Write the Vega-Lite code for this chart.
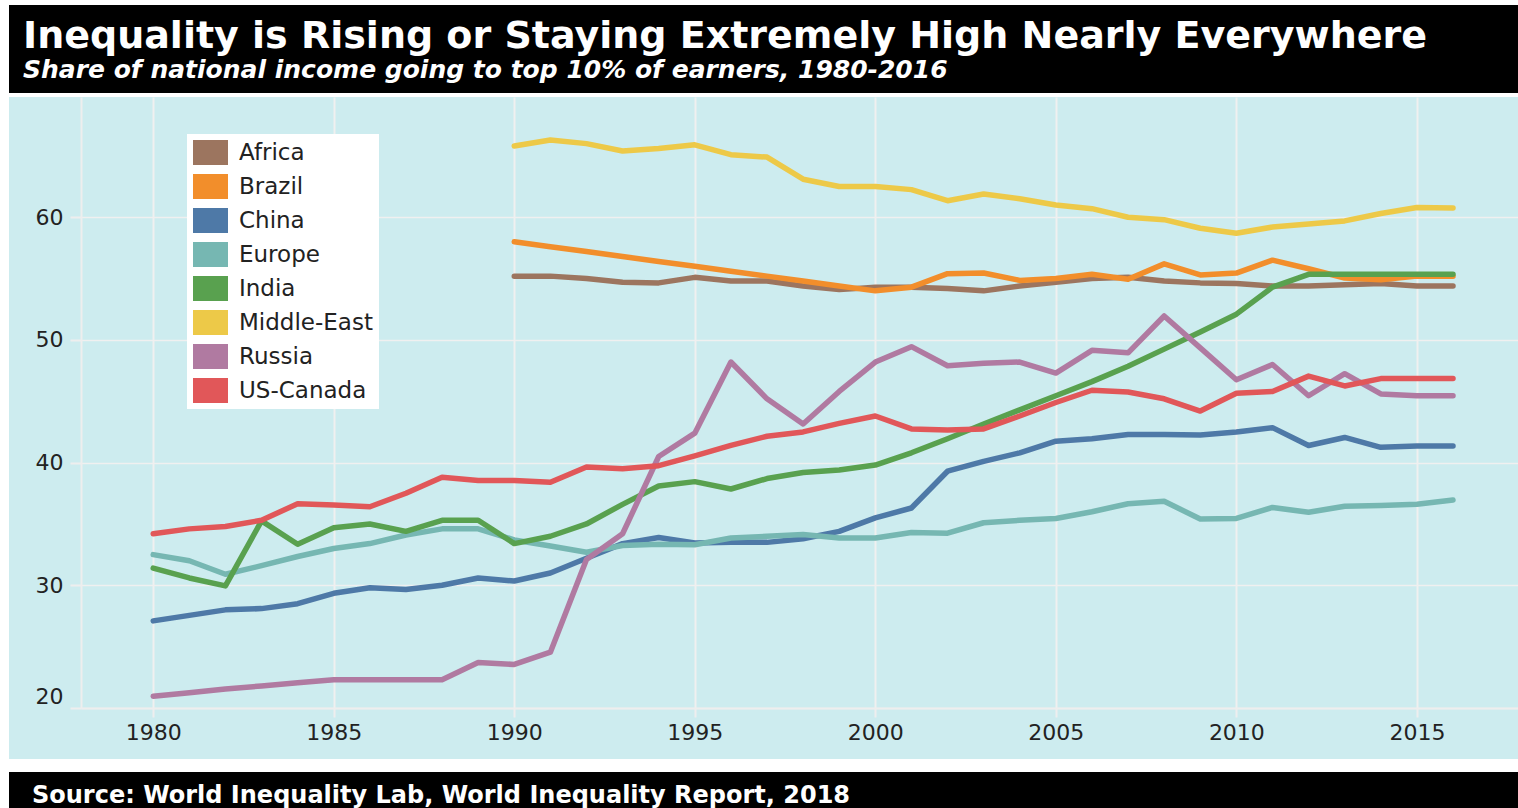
{
  "$schema": "https://vega.github.io/schema/vega-lite/v6.json",
  "background": "#cdecef",
  "padding": 0,
  "spacing": 0,
  "resolve": {"legend": {"color": "independent"}},
  "config": {"view": {"stroke": null}, "font": "DejaVu Sans"},
  "hconcat": [
    {
      "width": 9,
      "height": 808,
      "view": {"fill": "#ffffff", "stroke": null},
      "data": {"values": []},
      "mark": "point"
    },
    {
      "spacing": 0,
      "resolve": {"legend": {"color": "independent"}},
      "vconcat": [
        {
          "width": 1509,
          "height": 5,
          "view": {"fill": "#ffffff", "stroke": null},
          "data": {"values": []},
          "mark": "point"
        },
        {
          "width": 1509,
          "height": 88,
          "view": {"fill": "#000000", "stroke": null},
          "data": {"values": []},
          "mark": "point",
          "title": {
            "text": "Inequality is Rising or Staying Extremely High Nearly Everywhere",
            "subtitle": "Share of national income going to top 10% of earners, 1980-2016",
            "anchor": "start",
            "frame": "group",
            "orient": "top",
            "offset": -78,
            "dx": 14,
            "font": "DejaVu Sans",
            "fontSize": 38,
            "fontWeight": "bold",
            "color": "#ffffff",
            "subtitleFont": "DejaVu Sans",
            "subtitleFontSize": 25,
            "subtitleFontWeight": "bold",
            "subtitleFontStyle": "italic",
            "subtitleColor": "#ffffff",
            "subtitlePadding": 2
          }
        },
        {
          "width": 1509,
          "height": 4,
          "view": {"fill": "#ffffff", "stroke": null},
          "data": {"values": []},
          "mark": "point"
        },
        {
          "spacing": 0,
          "resolve": {"legend": {"color": "independent"}},
          "hconcat": [
            {
              "width": 1,
              "height": 611,
              "data": {"values": []},
              "mark": "point"
            },
            {
              "width": 1437,
              "height": 611,
              "data": {
                "values": [
                  {"region": "Africa", "year": 1990, "share": 55.2}, {"region": "Africa", "year": 1991, "share": 55.2}, {"region": "Africa", "year": 1992, "share": 55.0}, {"region": "Africa", "year": 1993, "share": 54.7}, {"region": "Africa", "year": 1994, "share": 54.65}, {"region": "Africa", "year": 1995, "share": 55.1}, {"region": "Africa", "year": 1996, "share": 54.8}, {"region": "Africa", "year": 1997, "share": 54.8}, {"region": "Africa", "year": 1998, "share": 54.4}, {"region": "Africa", "year": 1999, "share": 54.1}, {"region": "Africa", "year": 2000, "share": 54.3}, {"region": "Africa", "year": 2001, "share": 54.3}, {"region": "Africa", "year": 2002, "share": 54.2}, {"region": "Africa", "year": 2003, "share": 54.0}, {"region": "Africa", "year": 2004, "share": 54.4}, {"region": "Africa", "year": 2005, "share": 54.7}, {"region": "Africa", "year": 2006, "share": 55.0}, {"region": "Africa", "year": 2007, "share": 55.1}, {"region": "Africa", "year": 2008, "share": 54.8}, {"region": "Africa", "year": 2009, "share": 54.65}, {"region": "Africa", "year": 2010, "share": 54.6}, {"region": "Africa", "year": 2011, "share": 54.4}, {"region": "Africa", "year": 2012, "share": 54.4}, {"region": "Africa", "year": 2013, "share": 54.5}, {"region": "Africa", "year": 2014, "share": 54.6}, {"region": "Africa", "year": 2015, "share": 54.4}, {"region": "Africa", "year": 2016, "share": 54.4},
                  {"region": "Brazil", "year": 1990, "share": 58.0}, {"region": "Brazil", "year": 1991, "share": 57.6}, {"region": "Brazil", "year": 1992, "share": 57.2}, {"region": "Brazil", "year": 1993, "share": 56.8}, {"region": "Brazil", "year": 1994, "share": 56.4}, {"region": "Brazil", "year": 1995, "share": 56.0}, {"region": "Brazil", "year": 1996, "share": 55.6}, {"region": "Brazil", "year": 1997, "share": 55.2}, {"region": "Brazil", "year": 1998, "share": 54.8}, {"region": "Brazil", "year": 1999, "share": 54.4}, {"region": "Brazil", "year": 2000, "share": 54.0}, {"region": "Brazil", "year": 2001, "share": 54.3}, {"region": "Brazil", "year": 2002, "share": 55.4}, {"region": "Brazil", "year": 2003, "share": 55.45}, {"region": "Brazil", "year": 2004, "share": 54.85}, {"region": "Brazil", "year": 2005, "share": 55.0}, {"region": "Brazil", "year": 2006, "share": 55.35}, {"region": "Brazil", "year": 2007, "share": 54.95}, {"region": "Brazil", "year": 2008, "share": 56.2}, {"region": "Brazil", "year": 2009, "share": 55.3}, {"region": "Brazil", "year": 2010, "share": 55.45}, {"region": "Brazil", "year": 2011, "share": 56.5}, {"region": "Brazil", "year": 2012, "share": 55.8}, {"region": "Brazil", "year": 2013, "share": 55.05}, {"region": "Brazil", "year": 2014, "share": 54.9}, {"region": "Brazil", "year": 2015, "share": 55.2}, {"region": "Brazil", "year": 2016, "share": 55.2},
                  {"region": "China", "year": 1980, "share": 27.1}, {"region": "China", "year": 1981, "share": 27.55}, {"region": "China", "year": 1982, "share": 28.0}, {"region": "China", "year": 1983, "share": 28.1}, {"region": "China", "year": 1984, "share": 28.5}, {"region": "China", "year": 1985, "share": 29.35}, {"region": "China", "year": 1986, "share": 29.8}, {"region": "China", "year": 1987, "share": 29.65}, {"region": "China", "year": 1988, "share": 30.0}, {"region": "China", "year": 1989, "share": 30.6}, {"region": "China", "year": 1990, "share": 30.35}, {"region": "China", "year": 1991, "share": 31.0}, {"region": "China", "year": 1992, "share": 32.2}, {"region": "China", "year": 1993, "share": 33.4}, {"region": "China", "year": 1994, "share": 33.9}, {"region": "China", "year": 1995, "share": 33.45}, {"region": "China", "year": 1996, "share": 33.5}, {"region": "China", "year": 1997, "share": 33.5}, {"region": "China", "year": 1998, "share": 33.8}, {"region": "China", "year": 1999, "share": 34.4}, {"region": "China", "year": 2000, "share": 35.5}, {"region": "China", "year": 2001, "share": 36.3}, {"region": "China", "year": 2002, "share": 39.3}, {"region": "China", "year": 2003, "share": 40.1}, {"region": "China", "year": 2004, "share": 40.8}, {"region": "China", "year": 2005, "share": 41.75}, {"region": "China", "year": 2006, "share": 41.95}, {"region": "China", "year": 2007, "share": 42.3}, {"region": "China", "year": 2008, "share": 42.3}, {"region": "China", "year": 2009, "share": 42.25}, {"region": "China", "year": 2010, "share": 42.5}, {"region": "China", "year": 2011, "share": 42.85}, {"region": "China", "year": 2012, "share": 41.4}, {"region": "China", "year": 2013, "share": 42.05}, {"region": "China", "year": 2014, "share": 41.25}, {"region": "China", "year": 2015, "share": 41.35}, {"region": "China", "year": 2016, "share": 41.35},
                  {"region": "Europe", "year": 1980, "share": 32.5}, {"region": "Europe", "year": 1981, "share": 32.0}, {"region": "Europe", "year": 1982, "share": 30.9}, {"region": "Europe", "year": 1983, "share": 31.6}, {"region": "Europe", "year": 1984, "share": 32.35}, {"region": "Europe", "year": 1985, "share": 33.0}, {"region": "Europe", "year": 1986, "share": 33.4}, {"region": "Europe", "year": 1987, "share": 34.1}, {"region": "Europe", "year": 1988, "share": 34.6}, {"region": "Europe", "year": 1989, "share": 34.6}, {"region": "Europe", "year": 1990, "share": 33.7}, {"region": "Europe", "year": 1991, "share": 33.2}, {"region": "Europe", "year": 1992, "share": 32.7}, {"region": "Europe", "year": 1993, "share": 33.25}, {"region": "Europe", "year": 1994, "share": 33.35}, {"region": "Europe", "year": 1995, "share": 33.3}, {"region": "Europe", "year": 1996, "share": 33.85}, {"region": "Europe", "year": 1997, "share": 34.0}, {"region": "Europe", "year": 1998, "share": 34.15}, {"region": "Europe", "year": 1999, "share": 33.85}, {"region": "Europe", "year": 2000, "share": 33.85}, {"region": "Europe", "year": 2001, "share": 34.3}, {"region": "Europe", "year": 2002, "share": 34.25}, {"region": "Europe", "year": 2003, "share": 35.1}, {"region": "Europe", "year": 2004, "share": 35.3}, {"region": "Europe", "year": 2005, "share": 35.45}, {"region": "Europe", "year": 2006, "share": 36.0}, {"region": "Europe", "year": 2007, "share": 36.65}, {"region": "Europe", "year": 2008, "share": 36.85}, {"region": "Europe", "year": 2009, "share": 35.4}, {"region": "Europe", "year": 2010, "share": 35.45}, {"region": "Europe", "year": 2011, "share": 36.35}, {"region": "Europe", "year": 2012, "share": 35.95}, {"region": "Europe", "year": 2013, "share": 36.45}, {"region": "Europe", "year": 2014, "share": 36.5}, {"region": "Europe", "year": 2015, "share": 36.6}, {"region": "Europe", "year": 2016, "share": 36.95},
                  {"region": "India", "year": 1980, "share": 31.4}, {"region": "India", "year": 1981, "share": 30.6}, {"region": "India", "year": 1982, "share": 29.95}, {"region": "India", "year": 1983, "share": 35.25}, {"region": "India", "year": 1984, "share": 33.35}, {"region": "India", "year": 1985, "share": 34.7}, {"region": "India", "year": 1986, "share": 35.0}, {"region": "India", "year": 1987, "share": 34.4}, {"region": "India", "year": 1988, "share": 35.3}, {"region": "India", "year": 1989, "share": 35.3}, {"region": "India", "year": 1990, "share": 33.4}, {"region": "India", "year": 1991, "share": 34.0}, {"region": "India", "year": 1992, "share": 35.0}, {"region": "India", "year": 1993, "share": 36.6}, {"region": "India", "year": 1994, "share": 38.1}, {"region": "India", "year": 1995, "share": 38.45}, {"region": "India", "year": 1996, "share": 37.85}, {"region": "India", "year": 1997, "share": 38.7}, {"region": "India", "year": 1998, "share": 39.2}, {"region": "India", "year": 1999, "share": 39.4}, {"region": "India", "year": 2000, "share": 39.8}, {"region": "India", "year": 2001, "share": 40.8}, {"region": "India", "year": 2002, "share": 41.95}, {"region": "India", "year": 2003, "share": 43.15}, {"region": "India", "year": 2004, "share": 44.3}, {"region": "India", "year": 2005, "share": 45.45}, {"region": "India", "year": 2006, "share": 46.6}, {"region": "India", "year": 2007, "share": 47.85}, {"region": "India", "year": 2008, "share": 49.25}, {"region": "India", "year": 2009, "share": 50.65}, {"region": "India", "year": 2010, "share": 52.1}, {"region": "India", "year": 2011, "share": 54.3}, {"region": "India", "year": 2012, "share": 55.35}, {"region": "India", "year": 2013, "share": 55.35}, {"region": "India", "year": 2014, "share": 55.35}, {"region": "India", "year": 2015, "share": 55.35}, {"region": "India", "year": 2016, "share": 55.35},
                  {"region": "Middle-East", "year": 1990, "share": 65.8}, {"region": "Middle-East", "year": 1991, "share": 66.3}, {"region": "Middle-East", "year": 1992, "share": 66.0}, {"region": "Middle-East", "year": 1993, "share": 65.4}, {"region": "Middle-East", "year": 1994, "share": 65.6}, {"region": "Middle-East", "year": 1995, "share": 65.9}, {"region": "Middle-East", "year": 1996, "share": 65.1}, {"region": "Middle-East", "year": 1997, "share": 64.9}, {"region": "Middle-East", "year": 1998, "share": 63.1}, {"region": "Middle-East", "year": 1999, "share": 62.5}, {"region": "Middle-East", "year": 2000, "share": 62.5}, {"region": "Middle-East", "year": 2001, "share": 62.25}, {"region": "Middle-East", "year": 2002, "share": 61.35}, {"region": "Middle-East", "year": 2003, "share": 61.9}, {"region": "Middle-East", "year": 2004, "share": 61.5}, {"region": "Middle-East", "year": 2005, "share": 61.0}, {"region": "Middle-East", "year": 2006, "share": 60.7}, {"region": "Middle-East", "year": 2007, "share": 60.0}, {"region": "Middle-East", "year": 2008, "share": 59.8}, {"region": "Middle-East", "year": 2009, "share": 59.1}, {"region": "Middle-East", "year": 2010, "share": 58.7}, {"region": "Middle-East", "year": 2011, "share": 59.2}, {"region": "Middle-East", "year": 2012, "share": 59.45}, {"region": "Middle-East", "year": 2013, "share": 59.7}, {"region": "Middle-East", "year": 2014, "share": 60.3}, {"region": "Middle-East", "year": 2015, "share": 60.8}, {"region": "Middle-East", "year": 2016, "share": 60.75},
                  {"region": "Russia", "year": 1980, "share": 20.95}, {"region": "Russia", "year": 1981, "share": 21.25}, {"region": "Russia", "year": 1982, "share": 21.55}, {"region": "Russia", "year": 1983, "share": 21.8}, {"region": "Russia", "year": 1984, "share": 22.05}, {"region": "Russia", "year": 1985, "share": 22.3}, {"region": "Russia", "year": 1986, "share": 22.3}, {"region": "Russia", "year": 1987, "share": 22.3}, {"region": "Russia", "year": 1988, "share": 22.3}, {"region": "Russia", "year": 1989, "share": 23.7}, {"region": "Russia", "year": 1990, "share": 23.55}, {"region": "Russia", "year": 1991, "share": 24.55}, {"region": "Russia", "year": 1992, "share": 32.1}, {"region": "Russia", "year": 1993, "share": 34.2}, {"region": "Russia", "year": 1994, "share": 40.5}, {"region": "Russia", "year": 1995, "share": 42.4}, {"region": "Russia", "year": 1996, "share": 48.2}, {"region": "Russia", "year": 1997, "share": 45.2}, {"region": "Russia", "year": 1998, "share": 43.15}, {"region": "Russia", "year": 1999, "share": 45.8}, {"region": "Russia", "year": 2000, "share": 48.2}, {"region": "Russia", "year": 2001, "share": 49.45}, {"region": "Russia", "year": 2002, "share": 47.9}, {"region": "Russia", "year": 2003, "share": 48.1}, {"region": "Russia", "year": 2004, "share": 48.2}, {"region": "Russia", "year": 2005, "share": 47.3}, {"region": "Russia", "year": 2006, "share": 49.15}, {"region": "Russia", "year": 2007, "share": 48.95}, {"region": "Russia", "year": 2008, "share": 51.95}, {"region": "Russia", "year": 2009, "share": 49.35}, {"region": "Russia", "year": 2010, "share": 46.75}, {"region": "Russia", "year": 2011, "share": 48.0}, {"region": "Russia", "year": 2012, "share": 45.45}, {"region": "Russia", "year": 2013, "share": 47.25}, {"region": "Russia", "year": 2014, "share": 45.6}, {"region": "Russia", "year": 2015, "share": 45.45}, {"region": "Russia", "year": 2016, "share": 45.45},
                  {"region": "US-Canada", "year": 1980, "share": 34.2}, {"region": "US-Canada", "year": 1981, "share": 34.6}, {"region": "US-Canada", "year": 1982, "share": 34.8}, {"region": "US-Canada", "year": 1983, "share": 35.3}, {"region": "US-Canada", "year": 1984, "share": 36.65}, {"region": "US-Canada", "year": 1985, "share": 36.55}, {"region": "US-Canada", "year": 1986, "share": 36.4}, {"region": "US-Canada", "year": 1987, "share": 37.5}, {"region": "US-Canada", "year": 1988, "share": 38.8}, {"region": "US-Canada", "year": 1989, "share": 38.55}, {"region": "US-Canada", "year": 1990, "share": 38.55}, {"region": "US-Canada", "year": 1991, "share": 38.4}, {"region": "US-Canada", "year": 1992, "share": 39.65}, {"region": "US-Canada", "year": 1993, "share": 39.5}, {"region": "US-Canada", "year": 1994, "share": 39.75}, {"region": "US-Canada", "year": 1995, "share": 40.55}, {"region": "US-Canada", "year": 1996, "share": 41.4}, {"region": "US-Canada", "year": 1997, "share": 42.15}, {"region": "US-Canada", "year": 1998, "share": 42.5}, {"region": "US-Canada", "year": 1999, "share": 43.2}, {"region": "US-Canada", "year": 2000, "share": 43.8}, {"region": "US-Canada", "year": 2001, "share": 42.75}, {"region": "US-Canada", "year": 2002, "share": 42.65}, {"region": "US-Canada", "year": 2003, "share": 42.75}, {"region": "US-Canada", "year": 2004, "share": 43.8}, {"region": "US-Canada", "year": 2005, "share": 44.9}, {"region": "US-Canada", "year": 2006, "share": 45.9}, {"region": "US-Canada", "year": 2007, "share": 45.75}, {"region": "US-Canada", "year": 2008, "share": 45.2}, {"region": "US-Canada", "year": 2009, "share": 44.2}, {"region": "US-Canada", "year": 2010, "share": 45.65}, {"region": "US-Canada", "year": 2011, "share": 45.8}, {"region": "US-Canada", "year": 2012, "share": 47.05}, {"region": "US-Canada", "year": 2013, "share": 46.25}, {"region": "US-Canada", "year": 2014, "share": 46.85}, {"region": "US-Canada", "year": 2015, "share": 46.85}, {"region": "US-Canada", "year": 2016, "share": 46.85}
                ]
              },
              "mark": {"type": "line", "strokeWidth": 5.5, "strokeCap": "round", "strokeJoin": "round", "clip": true},
              "encoding": {
                "x": {
                  "field": "year",
                  "type": "quantitative",
                  "scale": {"domain": [1978, 2017.8], "nice": false, "zero": false},
                  "axis": {
                    "title": null,
                    "values": [1980, 1985, 1990, 1995, 2000, 2005, 2010, 2015],
                    "format": "d",
                    "labelFont": "DejaVu Sans",
                    "labelFontSize": 22,
                    "labelColor": "#222222",
                    "labelPadding": 5,
                    "labelFlush": false,
                    "tickColor": "#eeeeee",
                    "tickSize": 9,
                    "tickWidth": 2,
                    "domainColor": "#eeeeee",
                    "domainWidth": 2,
                    "gridColor": "#f0f0f0",
                    "gridWidth": 2,
                    "minExtent": 51,
                    "maxExtent": 51
                  }
                },
                "y": {
                  "field": "share",
                  "type": "quantitative",
                  "scale": {"domain": [20, 69.8], "nice": false, "zero": false},
                  "axis": {
                    "title": null,
                    "values": [20, 30, 40, 50, 60],
                    "labelFont": "DejaVu Sans",
                    "labelFontSize": 22,
                    "labelColor": "#222222",
                    "labelPadding": 7,
                    "labelFlush": true,
                    "tickColor": "#eeeeee",
                    "tickSize": 11,
                    "tickWidth": 2,
                    "domainColor": "#eeeeee",
                    "domainWidth": 2,
                    "gridColor": "#f0f0f0",
                    "gridWidth": 1.5,
                    "minExtent": 71,
                    "maxExtent": 71
                  }
                },
                "color": {
                  "field": "region",
                  "type": "nominal",
                  "scale": {
                    "domain": ["Africa", "Brazil", "China", "Europe", "India", "Middle-East", "Russia", "US-Canada"],
                    "range": ["#9c755f", "#f28e2b", "#4e79a7", "#76b7b2", "#59a14f", "#edc948", "#b07aa1", "#e15759"]
                  },
                  "legend": {
                    "title": null,
                    "orient": "none",
                    "legendX": 106,
                    "legendY": 37,
                    "fillColor": "#ffffff",
                    "strokeColor": null,
                    "padding": 6,
                    "symbolType": "M-1,-1H1.8V1H-1Z",
                    "symbolSize": 625,
                    "symbolStrokeWidth": 0,
                    "symbolOpacity": 1,
                    "labelFont": "DejaVu Sans",
                    "labelFontSize": 23,
                    "labelColor": "#222222",
                    "labelOffset": 21,
                    "rowPadding": 9,
                    "encode": {
                      "symbols": {
                        "update": {
                          "fill": {"scale": "color", "field": "value"},
                          "stroke": {"value": "transparent"},
                          "strokeWidth": {"value": 0},
                          "opacity": {"value": 1}
                        }
                      }
                    }
                  }
                }
              }
            }
          ]
        },
        {
          "width": 1509,
          "height": 13,
          "view": {"fill": "#ffffff", "stroke": null},
          "data": {"values": []},
          "mark": "point"
        },
        {
          "width": 1509,
          "height": 36,
          "view": {"fill": "#000000", "stroke": null},
          "data": {"values": []},
          "mark": "point",
          "title": {
            "text": "Source: World Inequality Lab, World Inequality Report, 2018",
            "anchor": "start",
            "frame": "group",
            "orient": "top",
            "offset": -36,
            "dx": 23,
            "font": "DejaVu Sans",
            "fontSize": 24,
            "fontWeight": "bold",
            "color": "#ffffff"
          }
        }
      ]
    }
  ]
}
